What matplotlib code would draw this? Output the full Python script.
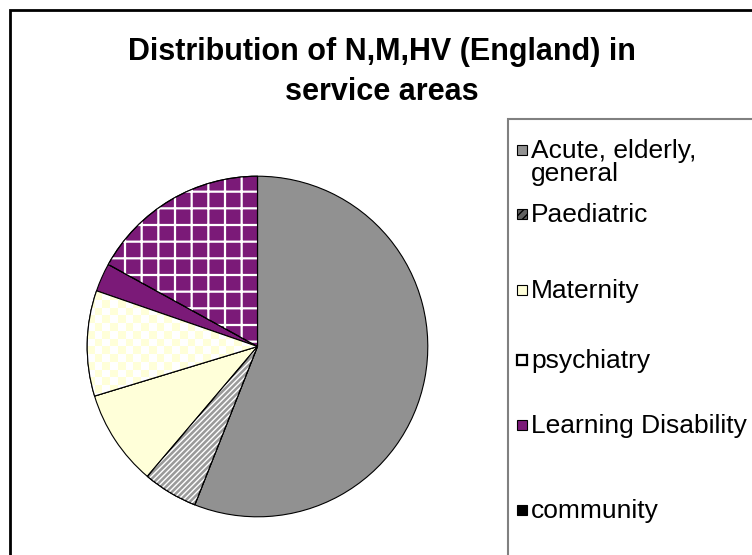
import numpy as np
import matplotlib
matplotlib.use("Agg")
import matplotlib.pyplot as plt
from matplotlib.patches import Rectangle, Wedge

plt.rcParams['font.family'] = ['Liberation Sans', 'DejaVu Sans']

# ---- data (percent share) ----
categories = ["Acute, elderly,\ngeneral", "Paediatric", "Maternity", "psychiatry",
              "Learning Disability", "community"]
shares = [56.0, 5.2, 9.1, 10.0, 2.7, 17.0]
title_lines = ["Distribution of N,M,HV (England) in", "service areas"]

# ---- styles ----
face = ['#919191', '#9a9a9a', '#FFFFD9', '#FFFFD9', '#7B1A78', '#7B1A78']

W, H = 752, 555
fig = plt.figure(figsize=(W / 100, H / 100), dpi=100)

# overlay axes in pixel coordinates for frame, title and legend
ov = fig.add_axes([0, 0, 1, 1], zorder=0)
ov.set_xlim(0, W)
ov.set_ylim(H, 0)
ov.axis('off')
ov.plot([10, 10, W + 5], [H + 5, 10, 10], color='black', lw=2, solid_joinstyle='miter')
ov.add_patch(Rectangle((508, 119), 260, 460, facecolor='white', edgecolor='#808080', lw=1.5))

ov.text(382, 60, title_lines[0], ha='center', va='baseline', fontsize=22, fontweight='bold')
ov.text(382, 100, title_lines[1], ha='center', va='baseline', fontsize=22, fontweight='bold')

# pie axes
cx, cy, r = 257.5, 346.5, 172
ax = fig.add_axes([(cx - r) / W, (H - cy - r) / H, 2 * r / W, 2 * r / H], zorder=2)
wedges, _ = ax.pie(shares, startangle=90, counterclock=False, colors=face,
                   wedgeprops=dict(edgecolor='black', linewidth=0.8))
ax.axis('off')

def overlay(w, hatch, color, lw):
    o = Wedge(w.center, w.r, w.theta1, w.theta2, facecolor='none', edgecolor=color,
              hatch=hatch, linewidth=0)
    try:
        o.set_hatch_linewidth(lw)
    except Exception:
        pass
    ax.add_patch(o)
    e = Wedge(w.center, w.r, w.theta1, w.theta2, facecolor='none', edgecolor='black', linewidth=0.8)
    ax.add_patch(e)

# paediatric: white diagonal stripes
overlay(wedges[1], '//////', 'white', 1.0)
# community: white grid
overlay(wedges[5], '+', 'white', 1.6)
# psychiatry: checkerboard clipped to the wedge
n = 44
chk = (np.add.outer(np.arange(n), np.arange(n)) % 2)
img = np.ones((n, n, 3))
img[chk == 0] = [1.0, 1.0, 0xD9 / 255]
im = ax.imshow(img, extent=(-1, 1, -1, 1), interpolation='nearest', zorder=1.5)
im.set_clip_path(wedges[3])
w = wedges[3]
ax.add_patch(Wedge(w.center, w.r, w.theta1, w.theta2, facecolor='none', edgecolor='black',
                   linewidth=0.8, zorder=2))
ax.set_xlim(-1.01, 1.01)
ax.set_ylim(-1.01, 1.01)
ax.set_aspect('equal')

# legend (manual, Excel-like irregular spacing)
baselines = [158, 222, 298, 368, 433, 518]
mk_face = ['#919191', '#606060', '#FFFFD9', 'white', '#7B1A78', 'black']
mk_hatch = [None, '////', None, None, None, '+']
for i, lab in enumerate(categories):
    yb = baselines[i]
    ov.add_patch(Rectangle((517, yb - 13), 10, 10, facecolor=mk_face[i], edgecolor='black',
                           lw=1.6 if i == 3 else 0.8, hatch=mk_hatch[i]))
    lines = lab.split('\n')
    ov.text(531, yb, lines[0], ha='left', va='baseline', fontsize=19)
    for k, extra in enumerate(lines[1:]):
        ov.text(531, yb + 23 * (k + 1), extra, ha='left', va='baseline', fontsize=19)

fig.savefig('out.png', dpi=100)
